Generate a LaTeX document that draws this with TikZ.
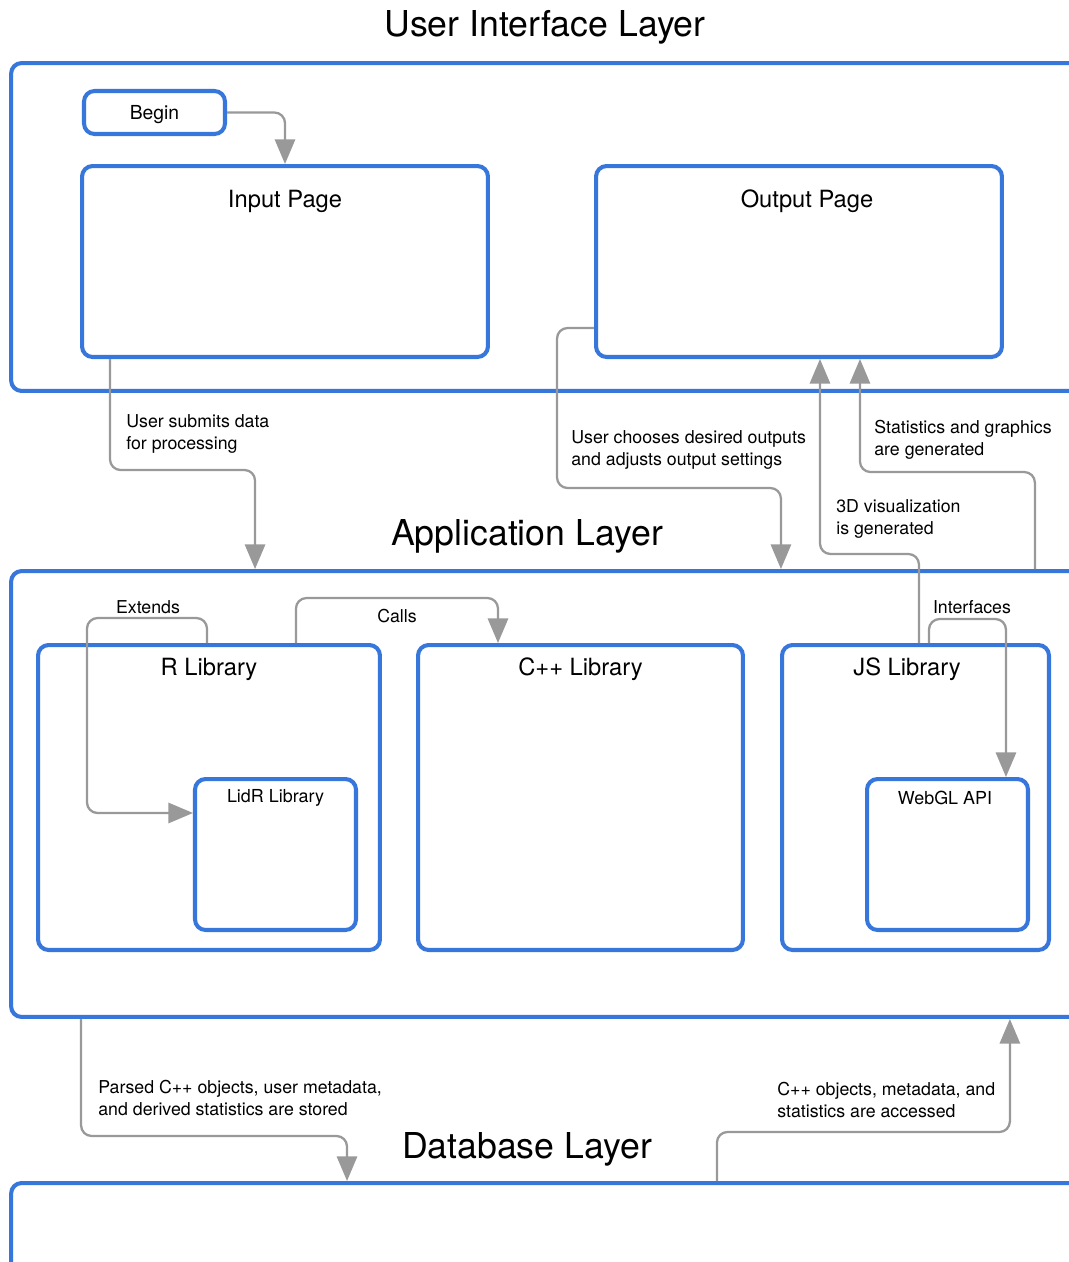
\documentclass[tikz,border=0pt]{standalone}
\usepackage{fontspec}
\setmainfont{TeX Gyre Heros}
\usetikzlibrary{arrows.meta}

\definecolor{layerblue}{RGB}{55,118,218}
\definecolor{flowgray}{RGB}{153,153,153}

\tikzset{
  box/.style={draw=layerblue, line width=2.3pt, rounded corners=6pt,
    inner sep=0pt, fill=white},
  flow/.style={draw=flowgray, line width=1.3pt, rounded corners=6pt,
    -{Triangle[width=11.5pt,length=14pt]}},
  layertitle/.style={font=\fontsize{20.3}{24}\selectfont},
  boxtitle/.style={font=\fontsize{13.5}{16}\selectfont},
  smalltitle/.style={font=\fontsize{10.2}{12}\selectfont},
  note/.style={font=\fontsize{10.1}{12.5}\selectfont, align=left, inner sep=0pt, anchor=west}
}

\begin{document}
\begin{tikzpicture}[x=0.02cm,y=-0.02cm]
  \useasboundingbox (0,0) rectangle (1069,1262);
  \clip (0,0) rectangle (1069,1262);

  \node[layertitle] (uiT) at (545,27) {User Interface Layer};
  \node[box, minimum width=21.78cm, minimum height=6.56cm] (ui) at (555.5,227) {};
  \node[box, minimum width=2.82cm, minimum height=0.86cm] (begin) at (154.5,112.5) {};
  \node[font=\fontsize{11}{13}\selectfont] (beginT) at ([yshift=-0.05cm]begin.center) {Begin};
  \node[box, minimum width=8.12cm, minimum height=3.82cm] (input) at (285,261.5) {};
  \node[boxtitle] (inputT) at ([yshift=-0.75cm]input.north) {Input Page};
  \node[box, minimum width=8.12cm, minimum height=3.82cm] (output) at (799,261.5) {};
  \node[boxtitle] (outputT) at ([xshift=0.16cm,yshift=-0.75cm]output.north) {Output Page};

  \node[layertitle] (appT) at (527,536) {Application Layer};
  \node[box, minimum width=21.78cm, minimum height=8.92cm] (app) at (555.5,794) {};
  \node[box, minimum width=6.84cm, minimum height=6.1cm] (rlib) at (209,797.5) {};
  \node[boxtitle] (rlibT) at ([yshift=-0.52cm]rlib.north) {R Library};
  \node[box, minimum width=6.5cm, minimum height=6.1cm] (cpp) at (580.5,797.5) {};
  \node[boxtitle] (cppT) at ([yshift=-0.52cm]cpp.north) {C++ Library};
  \node[box, minimum width=5.34cm, minimum height=6.1cm] (js) at (915.5,797.5) {};
  \node[boxtitle] (jsT) at ([xshift=-0.17cm,yshift=-0.52cm]js.north) {JS Library};
  \node[box, minimum width=3.22cm, minimum height=3.02cm] (lidr) at (275.5,854.5) {};
  \node[smalltitle] (lidrT) at ([yshift=-0.42cm]lidr.north) {LidR Library};
  \node[box, minimum width=3.22cm, minimum height=3.02cm] (webgl) at (947.5,854.5) {};
  \node[smalltitle] (webglT) at ([xshift=-0.05cm,yshift=-0.42cm]webgl.north) {WebGL API};

  \node[layertitle] (dbT) at (527,1149) {Database Layer};
  \node[box, minimum width=21.78cm, minimum height=2.74cm] (db) at (555.5,1251.5) {};

  \draw[flow] (begin.east) -| (input.north);
  \draw[flow] ([xshift=0.6cm]input.south west) -- ++(0,111) -| ([xshift=4.92cm]app.north west);
  \draw[flow] ([yshift=0.62cm]output.south west) -- ++(-37,0) -- ++(0,160) -| ([xshift=15.44cm]app.north west);
  \draw[flow] ([xshift=2.78cm]js.north west) -- ++(0,-89) -| ([xshift=4.52cm]output.south west);
  \draw[flow] ([xshift=20.52cm]app.north west) -- ++(0,-97) -| ([xshift=5.32cm]output.south west);
  \draw[flow] ([xshift=3.42cm]rlib.north west) -- ++(0,-25) -- ++(-120,0) |- ([yshift=-0.72cm]lidr.north west);
  \draw[flow] ([xshift=5.2cm]rlib.north west) -- ++(0,-45) -| ([xshift=1.64cm]cpp.north west);
  \draw[flow] ([xshift=2.98cm]js.north west) -- ++(0,-24) -| ([xshift=2.82cm]webgl.north west);
  \draw[flow] ([xshift=1.44cm]app.south west) -- ++(0,117) -| ([xshift=6.76cm]db.north west);
  \draw[flow] ([xshift=14.16cm]db.north west) -- ++(0,-49) -| ([xshift=20.02cm]app.south west);

  \node[note] (submitL) at (126,434) {User submits data\\for processing};
  \node[note] (chooseL) at (571,450) {User chooses desired outputs\\and adjusts output settings};
  \node[note] (statsL) at (874,440) {Statistics and graphics\\are generated};
  \node[note] (vizL) at (836,519) {3D visualization\\is generated};
  \node[note, anchor=center] (extendsL) at (148,607) {Extends};
  \node[note, anchor=center] (callsL) at (397,616) {Calls};
  \node[note, anchor=center] (interfacesL) at (972,607) {Interfaces};
  \node[note] (storedL) at (98,1098) {Parsed C++ objects, user metadata,\\and derived statistics are stored};
  \node[note] (accessedL) at (777,1100) {C++ objects, metadata, and\\statistics are accessed};
\end{tikzpicture}
\end{document}
